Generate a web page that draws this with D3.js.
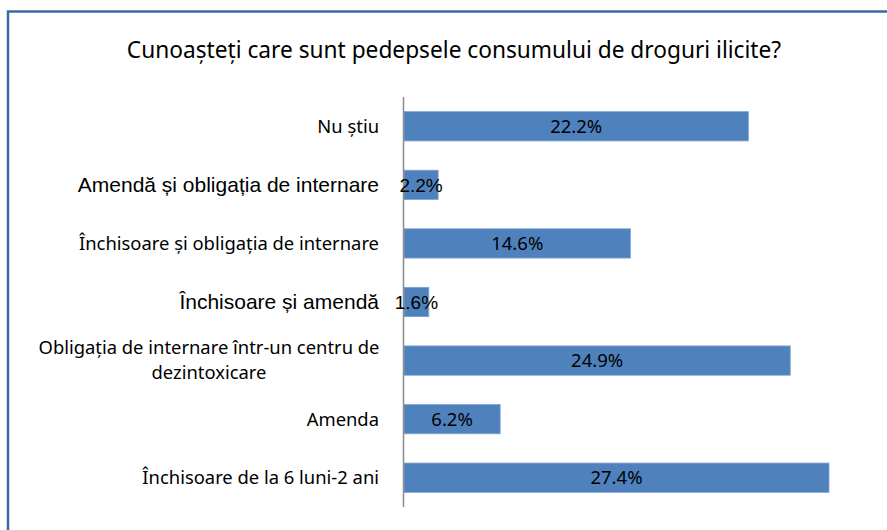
<!DOCTYPE html>
<html>
<head>
<meta charset="utf-8">
<script src="https://cdn.jsdelivr.net/npm/d3@7"></script>
<style>
  body { margin: 0; background: #fff; }
  svg { display: block; }
</style>
</head>
<body>
<div id="chart"></div>
<script>
var title = 'Cunoașteți care sunt pedepsele consumului de droguri ilicite?';
var categories = [
  ['Nu știu'],
  ['Amendă și obligația de internare'],
  ['Închisoare și obligația de internare'],
  ['Închisoare și amendă'],
  ['Obligația de internare într-un centru de', 'dezintoxicare'],
  ['Amenda'],
  ['Închisoare de la 6 luni-2 ani']
];
var values = [22.2, 2.2, 14.6, 1.6, 24.9, 6.2, 27.4];
// the two rows that were typed in Arial in the original
var arialRows = [1, 3];

var width = 887, height = 530;
var calibri = 'Noto Sans, Open Sans, sans-serif';
var arial = 'Liberation Sans, Arial, sans-serif';

var svg = d3.select('#chart')
            .append('svg')
            .attr('width', width)
            .attr('height', height);

// outer frame
svg.append('rect')
   .attr('x', 8)
   .attr('y', 11.5)
   .attr('width', 900)
   .attr('height', 600)
   .style('fill', 'none')
   .style('stroke', '#3d68a3')
   .style('stroke-width', 2.5);

svg.append('text')
   .attr('x', 454)
   .attr('y', 50)
   .attr('dy', '0.35em')
   .attr('text-anchor', 'middle')
   .style('font-family', calibri)
   .style('font-size', '22.7px')
   .style('fill', '#000')
   .text(title);

var x = d3.scaleLinear()
          .domain([0, 27.4])
          .range([404, 829]);

var y = d3.scaleBand()
          .domain(d3.range(categories.length))
          .range([97, 507])
          .paddingInner(0.5)
          .paddingOuter(0.25);

svg.selectAll('rect.bar')
   .data(values)
   .enter()
   .append('rect')
   .attr('class', 'bar')
   .attr('x', x(0))
   .attr('y', function(d, i){ return y(i); })
   .attr('width', function(d){ return x(d) - x(0); })
   .attr('height', y.bandwidth())
   .style('fill', '#4f81bd')
   .style('stroke', '#7ea3d1')
   .style('stroke-width', 0.8);

// axis line
svg.append('line')
   .attr('x1', 403.5)
   .attr('x2', 403.5)
   .attr('y1', 97)
   .attr('y2', 507)
   .style('stroke', '#8c8c8c')
   .style('stroke-width', 1.5);

// category labels
var lab = svg.selectAll('text.cat')
             .data(categories)
             .enter()
             .append('text')
             .attr('class', 'cat')
             .style('font-family', function(d, i){ return arialRows.indexOf(i) >= 0 ? arial : calibri; })
             .style('font-size', function(d, i){ return arialRows.indexOf(i) >= 0 ? '21px' : '18.4px'; })
             .style('fill', '#000');

lab.each(function(d, i){
   var t = d3.select(this);
   var cy = y(i) + y.bandwidth() / 2;
   if (d.length === 1) {
      t.attr('x', 379).attr('y', cy).attr('dy', '0.35em').attr('text-anchor', 'end').text(d[0]);
   } else {
      t.attr('text-anchor', 'middle');
      d.forEach(function(line, k){
         t.append('tspan')
          .attr('x', 209)
          .attr('y', cy - 1 + (k - (d.length - 1) / 2) * 25)
          .attr('dy', '0.35em')
          .text(line);
      });
   }
});

// value labels
svg.selectAll('text.val')
   .data(values)
   .enter()
   .append('text')
   .attr('class', 'val')
   .attr('x', function(d){ return (x(0) + x(d)) / 2; })
   .attr('y', function(d, i){ return y(i) + y.bandwidth() / 2; })
   .attr('dy', '0.35em')
   .attr('text-anchor', 'middle')
   .style('font-family', function(d, i){ return arialRows.indexOf(i) >= 0 ? arial : calibri; })
   .style('font-size', function(d, i){ return arialRows.indexOf(i) >= 0 ? '19px' : '18.5px'; })
   .style('fill', '#000')
   .text(function(d){ return d.toFixed(1) + '%'; });
</script>
</body>
</html>
